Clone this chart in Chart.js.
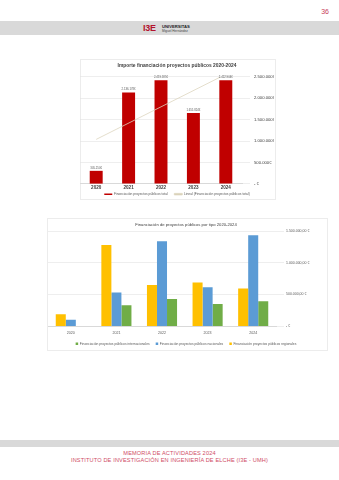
<!DOCTYPE html>
<html>
<head>
<meta charset="utf-8">
<script src="https://cdn.jsdelivr.net/npm/chart.js@4"></script>
<style>
  html, body { margin: 0; padding: 0; background: #fff; }
  body { width: 339px; height: 480px; position: relative; overflow: hidden; font-family: 'Liberation Sans', Arial, sans-serif; }
  .band { position: absolute; left: 0; width: 339px; background: #d9d9d9; }
  .pagenum { position: absolute; right: 10px; top: 8px; font-size: 7px; color: #c8415a; }
  .logo { position: absolute; left: 143px; top: 23px; height: 11px; }
  .logo .i3e { position: absolute; left: 0; top: 0; font: bold 9px 'Liberation Sans', sans-serif; color: #b3122e; letter-spacing: -0.3px; }
  .logo .uni { position: absolute; left: 19px; top: 1px; font: bold 4.2px 'Liberation Sans', sans-serif; color: #222; white-space: nowrap; }
  .logo .mh { position: absolute; left: 19px; top: 6px; font: 3.2px 'Liberation Sans', sans-serif; color: #444; white-space: nowrap; }
  .frame { position: absolute; border: 1px solid #ececec; box-sizing: border-box; }
  canvas { position: absolute; }
  .footer { position: absolute; left: 0; width: 339px; text-align: center; color: #cf4d66; font-size: 5.6px; line-height: 7px; letter-spacing: 0.15px; }
</style>
</head>
<body>
<div class="pagenum">36</div>
<div class="band" style="top:21px;height:14px;"></div>
<div class="logo"><span class="i3e">I3E</span><span class="uni">UNIVERSITAS</span><span class="mh">Miguel Hernández</span></div>

<div class="frame" style="left:80px;top:59px;width:196px;height:141px;"></div>
<canvas id="totalChart" width="196" height="141" style="left:80px;top:59px;"></canvas>

<div class="frame" style="left:47px;top:218px;width:281px;height:133px;"></div>
<canvas id="typeChart" width="281" height="133" style="left:47px;top:218px;"></canvas>

<div class="band" style="top:440px;height:7px;"></div>
<div class="footer" style="top:450px;">MEMORIA DE ACTIVIDADES 2024<br>INSTITUTO DE INVESTIGACIÓN EN INGENIERÍA DE ELCHE (I3E - UMH)</div>

<script>
// ---- data ----
const YEARS = ['2020', '2021', '2022', '2023', '2024'];
const TOTAL = [305250, 2136178, 2419585, 1655824, 2422904];
// trend line end points
const TREND_YEARS = ['2020', '2024'];
const TREND = [1040000, 2560000];

const REGIONAL = [190000, 1280000, 650000, 690000, 595000];
const NACIONAL = [100000, 530000, 1340000, 615000, 1435000];
const INTERNACIONAL = [0, 330000, 430000, 350000, 395000];

const FONT = "'Liberation Sans', Arial, sans-serif";
Chart.defaults.font.family = FONT;
Chart.defaults.color = '#595959';

function miles(v) {
  return String(Math.round(v)).replace(/\B(?=(\d{3})+(?!\d))/g, '.');
}

// value labels above the bars of the first chart
const barLabels = {
  id: 'barLabels',
  afterDatasetsDraw(chart) {
    const meta = chart.getDatasetMeta(0);
    const ctx = chart.ctx;
    ctx.save();
    ctx.font = '2.8px ' + FONT;
    ctx.fillStyle = '#595959';
    ctx.textAlign = 'center';
    ctx.textBaseline = 'bottom';
    meta.data.forEach((bar, i) => {
      ctx.fillText(miles(TOTAL[i]) + '€', bar.x, bar.y - 1.5);
    });
    ctx.restore();
  }
};

// pin the legend box to a fixed height so the plot keeps its size
function legendHeight(h) {
  return {
    id: 'legendHeight',
    beforeInit(chart) {
      const fit = chart.legend.fit;
      chart.legend.fit = function () {
        fit.call(this);
        this.height = h;
      };
    }
  };
}

// 1. total funding
new Chart(document.getElementById('totalChart'), {
  data: {
    labels: YEARS,
    datasets: [
      {
        type: 'bar',
        label: 'Financiación proyectos públicos total',
        data: TOTAL,
        backgroundColor: '#c00000',
        barPercentage: 0.4,
        categoryPercentage: 1,
        order: 1
      },
      {
        type: 'line',
        label: 'Lineal (Financiación proyectos públicos total)',
        data: TREND_YEARS.map((y, i) => ({ x: y, y: TREND[i] })),
        borderColor: '#ddd6bf',
        backgroundColor: '#d6cfb6',
        borderWidth: 0.8,
        pointRadius: 0,
        order: 0
      }
    ]
  },
  options: {
    responsive: false,
    animation: false,
    layout: { padding: { left: 0, right: 2, top: 0, bottom: 2.5 } },
    plugins: {
      title: {
        display: true,
        text: 'Importe financiación proyectos públicos 2020-2024',
        color: '#404040',
        font: { size: 4.9, weight: 'bold' },
        padding: { top: 4, bottom: 8 }
      },
      legend: {
        position: 'bottom',
        labels: {
          boxWidth: 8, boxHeight: 1.5, padding: 1,
          font: { size: 3.3 }, color: '#595959',
          sort: (a, b) => a.datasetIndex - b.datasetIndex,
          generateLabels: chart => {
            const items = Chart.defaults.plugins.legend.labels.generateLabels(chart);
            items.forEach(it => { if (it.datasetIndex === 0) it.text += '      '; });
            return items;
          }
        }
      },
      tooltip: { enabled: false }
    },
    scales: {
      x: {
        grid: { display: false, drawTicks: false, tickLength: 0 },
        border: { color: '#d9d9d9' },
        ticks: { font: { size: 4.6, weight: 'bold', lineHeight: 1 }, color: '#404040', padding: 1.5 }
      },
      y: {
        position: 'right',
        min: 0, max: 2500000,
        grid: { color: '#e3e3e3', lineWidth: 0.6 },
        border: { display: false },
        afterFit: s => { s.width = 32; },
        ticks: {
          stepSize: 500000,
          font: { size: 4.2 }, color: '#404040', padding: 4,
          callback: v => v === 0 ? '- €' : miles(v) + '€'
        }
      }
    }
  },
  plugins: [barLabels, legendHeight(6)]
});

// 2. funding by type
new Chart(document.getElementById('typeChart'), {
  type: 'bar',
  data: {
    labels: YEARS,
    datasets: [
      { label: 'Financiación proyectos públicos regionales', data: REGIONAL, backgroundColor: '#ffc000' },
      { label: 'Financiación proyectos públicos nacionales', data: NACIONAL, backgroundColor: '#5b9bd5' },
      { label: 'Financiación proyectos públicos internacionales', data: INTERNACIONAL, backgroundColor: '#70ad47' }
    ]
  },
  options: {
    responsive: false,
    animation: false,
    datasets: { bar: { barPercentage: 1, categoryPercentage: 0.66 } },
    layout: { padding: { left: 1, right: 4, top: 0, bottom: 2.5 } },
    plugins: {
      title: {
        display: true,
        text: 'Financiación de proyectos públicos por tipo 2020-2024',
        color: '#404040',
        font: { size: 4.2, weight: 'normal' },
        padding: { top: 4, bottom: 4 }
      },
      legend: {
        position: 'bottom',
        reverse: true,
        labels: {
          boxWidth: 2.5, boxHeight: 2.5, padding: 1.5, font: { size: 3.3 }, color: '#595959',
          generateLabels: chart => {
            const items = Chart.defaults.plugins.legend.labels.generateLabels(chart);
            items.forEach(it => { if (it.datasetIndex > 0) it.text += '     '; });
            return items;
          }
        }
      },
      tooltip: { enabled: false }
    },
    scales: {
      x: {
        grid: { display: false, drawTicks: false, tickLength: 0 },
        border: { color: '#d9d9d9' },
        ticks: { font: { size: 3.6 }, color: '#595959', padding: 5 }
      },
      y: {
        position: 'right',
        min: 0, max: 1500000,
        grid: { color: '#e3e3e3', lineWidth: 0.6 },
        border: { display: false },
        afterFit: s => { s.width = 48; },
        ticks: {
          stepSize: 500000,
          font: { size: 3.5 }, color: '#595959', padding: 2,
          callback: v => v === 0 ? '- €' : miles(v) + ',00 €'
        }
      }
    }
  },
  plugins: [legendHeight(8)]
});
</script>
</body>
</html>
